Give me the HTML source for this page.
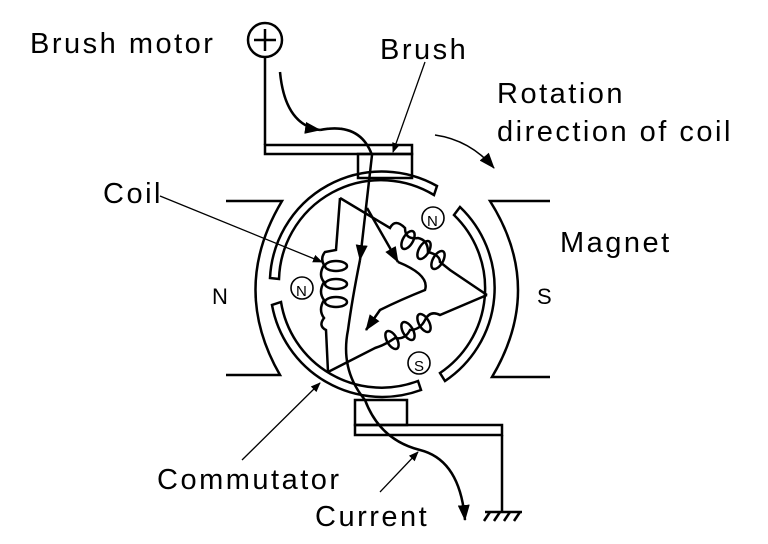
<!DOCTYPE html>
<html><head><meta charset="utf-8"><style>
html,body{margin:0;padding:0;background:#fff}
svg{display:block}
text{font-family:"Liberation Sans",sans-serif;font-size:29px;letter-spacing:2.5px;fill:#000}
</style></head><body>
<svg width="768" height="544" viewBox="0 0 768 544" xmlns="http://www.w3.org/2000/svg">
<defs><marker id="a" markerWidth="10" markerHeight="10" refX="9" refY="5" orient="auto" markerUnits="userSpaceOnUse"><path d="M0,1 L10,5 L0,9 Z" fill="#000"/></marker>
<marker id="b" markerWidth="16" markerHeight="12" refX="15" refY="6" orient="auto" markerUnits="userSpaceOnUse"><path d="M0,0 L16,6 L0,12 Z" fill="#000"/></marker></defs>
<g fill="none" stroke="#000" stroke-width="2.5">
<circle cx="265" cy="40" r="17"/>
<line x1="254" y1="40" x2="276" y2="40"/><line x1="265" y1="29" x2="265" y2="51"/>
<line x1="265" y1="57" x2="265" y2="145"/>
<rect x="265" y="145" width="147" height="9"/>
<rect x="358" y="154" width="54" height="24"/>
<rect x="355" y="400" width="52" height="25"/>
<rect x="355" y="425" width="147" height="10"/>
<line x1="502" y1="435" x2="502" y2="512"/>
<line x1="485" y1="512" x2="522" y2="512"/>
<line x1="490" y1="512" x2="484" y2="521"/><line x1="500" y1="512" x2="494" y2="521"/><line x1="510" y1="512" x2="504" y2="521"/><line x1="520" y1="512" x2="514" y2="521"/>
<path d="M226,201 L282,201 Q230,288 280,375 L226,375"/>
<path d="M550,201 L490,201 Q545,288 492,377 L550,377"/>
<path d="M437,186 A112,112 0 0 0 270,278 L279,279 A102,102 0 0 1 434,195 Z"/>
<path d="M460,207 A112,112 0 0 1 445,381 L440,373 A102,102 0 0 0 454,215 Z"/>
<path d="M421,390 A112,112 0 0 1 272,305 L281,302 A102,102 0 0 0 418,381 Z"/>
<path d="M340,198 L336,250 L325,252 Q320,258 324,265 Q318,275 324,282 Q318,292 324,300 Q318,310 324,318 Q318,326 326,330 L328,372"/>
<path d="M340,198 L390,228 Q395,218 405,228 Q405,240 418,238 Q428,240 428,252 Q440,255 440,262 L450,270 L487,295"/>
<path d="M487,295 L440,315 Q430,310 425,320 Q420,330 410,330 Q405,340 395,338 Q385,345 375,348 L328,372"/>
<ellipse cx="336" cy="266" rx="11" ry="5"/><ellipse cx="336" cy="284" rx="11" ry="5"/><ellipse cx="336" cy="302" rx="11" ry="5"/>
<ellipse cx="408" cy="240" rx="5" ry="10" transform="rotate(30 408 240)"/><ellipse cx="424" cy="250" rx="5" ry="10" transform="rotate(30 424 250)"/><ellipse cx="438" cy="260" rx="5" ry="10" transform="rotate(30 438 260)"/>
<ellipse cx="392" cy="340" rx="5" ry="10" transform="rotate(-30 392 340)"/><ellipse cx="408" cy="331" rx="5" ry="10" transform="rotate(-30 408 331)"/><ellipse cx="424" cy="323" rx="5" ry="10" transform="rotate(-30 424 323)"/>
<circle cx="302" cy="288" r="11" stroke-width="1.6"/><circle cx="433" cy="218" r="11" stroke-width="1.6"/><circle cx="419" cy="363" r="11" stroke-width="1.6"/>
<path d="M280,72 Q285,125 320,130" marker-end="url(#b)"/>
<path d="M320,130 Q360,122 372,155 L360,260" marker-end="url(#b)"/>
<path d="M360,260 Q352,300 348,330 Q340,370 365,400 Q380,440 420,450 Q460,460 465,520" marker-end="url(#b)"/>
<path d="M367,208 L398,262" marker-end="url(#b)"/>
<path d="M398,262 Q430,275 425,290 Q400,300 380,310 L366,330" marker-end="url(#b)"/>
<line x1="160" y1="196" x2="322" y2="262" stroke-width="1.3" marker-end="url(#a)"/>
<line x1="425" y1="62" x2="393" y2="152" stroke-width="1.3" marker-end="url(#a)"/>
<line x1="242" y1="460" x2="320" y2="383" stroke-width="1.3" marker-end="url(#a)"/>
<line x1="380" y1="492" x2="418" y2="452" stroke-width="1.3" marker-end="url(#a)"/>
<path d="M435,135 Q470,140 494,168" stroke-width="1.6" marker-end="url(#b)"/>
</g>
<text x="30" y="53">Brush motor</text>
<text x="380" y="59">Brush</text>
<text x="497" y="103">Rotation</text>
<text x="497" y="141">direction of coil</text>
<text x="103" y="203">Coil</text>
<text x="560" y="252">Magnet</text>
<text x="212" y="304" style="font-size:22px;letter-spacing:0">N</text>
<text x="537" y="304" style="font-size:22px;letter-spacing:0">S</text>
<text x="157" y="489">Commutator</text>
<text x="315" y="526">Current</text>
<text x="296" y="296" style="font-size:15px;letter-spacing:0">N</text>
<text x="427" y="226" style="font-size:15px;letter-spacing:0">N</text>
<text x="414" y="371" style="font-size:15px;letter-spacing:0">S</text>
</svg>
</body></html>
